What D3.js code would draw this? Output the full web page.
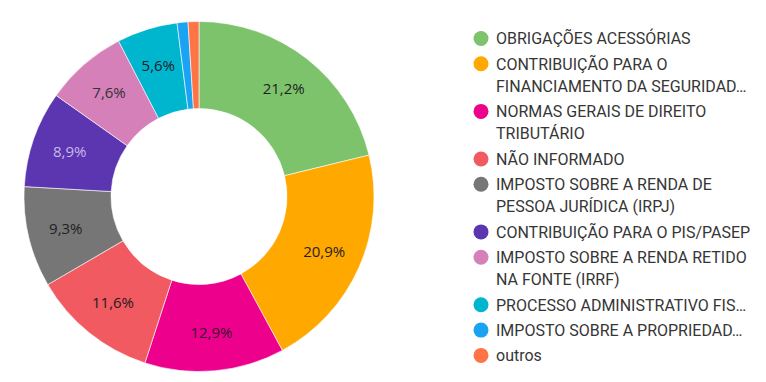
<!DOCTYPE html>
<html>
<head>
<meta charset="utf-8">
<script src="https://cdn.jsdelivr.net/npm/d3@7"></script>
<style>
  html, body { margin: 0; padding: 0; background: #fff; }
  svg { display: block; }
</style>
</head>
<body>
<div id="chart"></div>
<script>
(function () {
  const WIDTH = 766, HEIGHT = 382;

  // data
  const categories = [
    "OBRIGAÇÕES ACESSÓRIAS",
    "CONTRIBUIÇÃO PARA O FINANCIAMENTO DA SEGURIDADE SOCIAL",
    "NORMAS GERAIS DE DIREITO TRIBUTÁRIO",
    "NÃO INFORMADO",
    "IMPOSTO SOBRE A RENDA DE PESSOA JURÍDICA (IRPJ)",
    "CONTRIBUIÇÃO PARA O PIS/PASEP",
    "IMPOSTO SOBRE A RENDA RETIDO NA FONTE (IRRF)",
    "PROCESSO ADMINISTRATIVO FISCAL",
    "IMPOSTO SOBRE A PROPRIEDADE TERRITORIAL RURAL",
    "outros"
  ];
  const values = [21.2, 20.9, 12.9, 11.6, 9.3, 8.9, 7.6, 5.6, 1.0, 1.0];
  // legend lines as shown (wrapped / truncated)
  const legendLines = [
    ["OBRIGAÇÕES ACESSÓRIAS"],
    ["CONTRIBUIÇÃO PARA O", "FINANCIAMENTO DA SEGURIDAD…"],
    ["NORMAS GERAIS DE DIREITO", "TRIBUTÁRIO"],
    ["NÃO INFORMADO"],
    ["IMPOSTO SOBRE A RENDA DE", "PESSOA JURÍDICA (IRPJ)"],
    ["CONTRIBUIÇÃO PARA O PIS/PASEP"],
    ["IMPOSTO SOBRE A RENDA RETIDO", "NA FONTE (IRRF)"],
    ["PROCESSO ADMINISTRATIVO FIS…"],
    ["IMPOSTO SOBRE A PROPRIEDAD…"],
    ["outros"]
  ];
  const colors = ["#7cc36c", "#ffa800", "#ec008c", "#f05a60", "#767676",
                  "#5c35b0", "#d580b8", "#00b6cf", "#1aa3f2", "#ff7446"];
  const labelColors = ["#1f1f1f", "#1f1f1f", "#3a1030", "#2a1a1a", "#1f1f1f",
                       "#c9b9ec", "#333333", "#1f1f1f", "#1f1f1f", "#1f1f1f"];

  const data = categories.map((c, i) => ({ name: c, value: values[i], i }));

  const svg = d3.select("#chart").append("svg")
    .attr("width", WIDTH).attr("height", HEIGHT)
    .attr("viewBox", `0 0 ${WIDTH} ${HEIGHT}`);

  const cx = 199, cy = 196.5, outerR = 175, innerR = 88;

  const pie = d3.pie().value(d => d.value).sort(null);
  const arc = d3.arc().innerRadius(innerR).outerRadius(outerR);
  const labelArc = d3.arc().innerRadius(137).outerRadius(137);
  const fmt = v => d3.format(".1f")(v).replace(".", ",") + "%";

  const g = svg.append("g").attr("transform", `translate(${cx},${cy})`);
  const arcs = pie(data);

  g.selectAll("path").data(arcs).join("path")
    .attr("d", arc)
    .attr("fill", d => colors[d.data.i])
    .attr("stroke", "#fff")
    .attr("stroke-width", 0.6);

  g.selectAll("text").data(arcs.filter(d => d.data.value >= 5)).join("text")
    .attr("transform", d => `translate(${labelArc.centroid(d)})`)
    .attr("text-anchor", "middle")
    .attr("dy", "0.35em")
    .style("font-family", "'Open Sans', sans-serif")
    .style("font-size", "15px")
    .attr("fill", d => labelColors[d.data.i])
    .text(d => fmt(d.data.value));

  // legend
  const lx = 481, tx = 496, firstY = 38.5, itemGap = 25.3, lineGap = 22.3;
  const legend = svg.append("g");
  let y = firstY;
  legendLines.forEach((lines, i) => {
    const item = legend.append("g");
    item.append("circle").attr("cx", lx).attr("cy", y).attr("r", 7.5).attr("fill", colors[i]);
    lines.forEach((t, k) => {
      item.append("text")
        .attr("x", tx).attr("y", y + k * lineGap)
        .attr("dy", "0.36em")
        .style("font-family", "Roboto, sans-serif")
        .style("font-size", "16px")
        .attr("fill", "#363636")
        .text(t);
    });
    y += (lines.length - 1) * lineGap + itemGap;
  });
})();
</script>
</body>
</html>
